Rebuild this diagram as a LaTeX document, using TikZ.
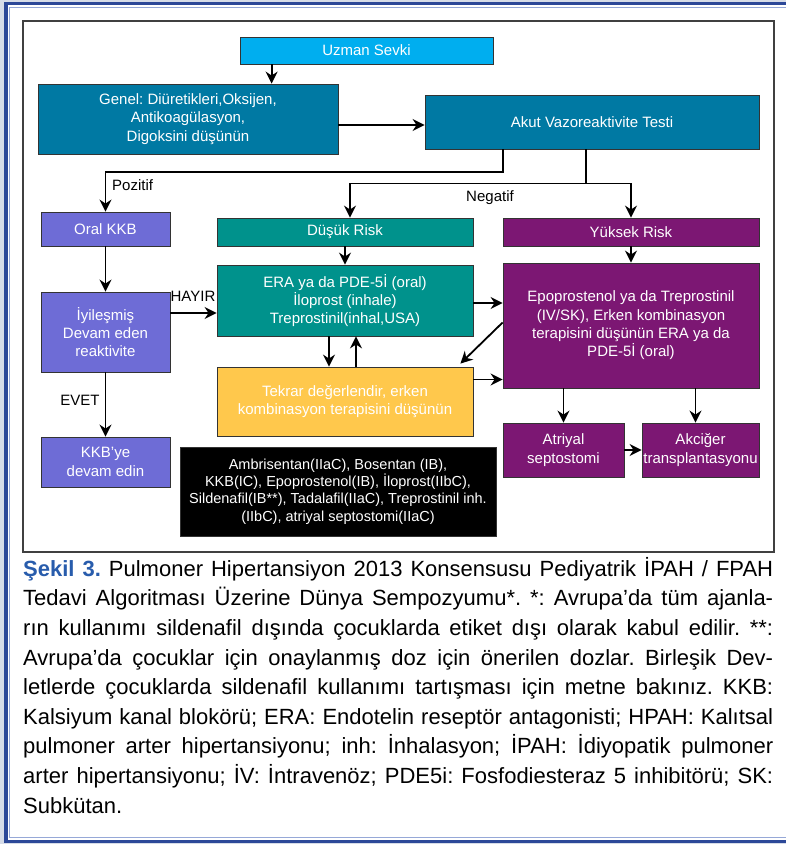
\documentclass[tikz,border=0pt]{standalone}
\usepackage{fontspec}
\setmainfont{Liberation Sans}
\usetikzlibrary{arrows.meta}
\definecolor{uzmanmavi}{RGB}{0,174,239}
\definecolor{petrol}{RGB}{0,121,163}
\definecolor{lila}{RGB}{110,108,214}
\definecolor{camgobegi}{RGB}{0,146,140}
\definecolor{mor}{RGB}{124,23,115}
\definecolor{sari}{RGB}{255,200,76}
\definecolor{kenarmavi}{RGB}{44,72,152}
\definecolor{acikmavi}{RGB}{150,168,215}
\definecolor{sekilmavi}{RGB}{40,92,172}
\definecolor{kenargri}{RGB}{214,220,232}
\newcommand{\satir}[1]{\makebox[750pt][s]{#1}}
\frenchspacing

\begin{document}
\begin{tikzpicture}[x=1pt,y=-1pt,
        kutu/.style={draw=black!80,line width=0.8pt,text=white,align=center,inner sep=0pt,
            font=\fontsize{15}{18.3}\selectfont},
        etiket/.style={font=\fontsize{15}{18}\selectfont,inner sep=0pt},
        ok/.style={line width=1.8pt,-{Stealth[length=12pt,width=12pt]}}]
        \useasboundingbox (0,0) rectangle (786,844);
        \fill[kenargri] (0,0) rectangle (786,844);
        \draw[kenarmavi,line width=3.5pt,fill=white] (5.8,3.7) rectangle (800,841.5);
        \draw[acikmavi,line width=1pt] (9.6,7.4) rectangle (800,837.2);
        \draw[black!75,line width=1.3pt] (23,21) rectangle (774,552);

        \node[kutu,fill=uzmanmavi,minimum width=253pt,minimum height=27pt] (uzman) at (366.5,50.5) {Uzman Sevki};
        \node[kutu,fill=petrol,minimum width=300pt,minimum height=70pt] (genel) at (188,119) {Genel: Diüretikleri,Oksijen,\\Antikoagülasyon,\\Digoksini düşünün};
        \node[kutu,fill=petrol,minimum width=334pt,minimum height=54pt] (akut) at (592,122) {Akut Vazoreaktivite Testi};
        \node[kutu,fill=lila,minimum width=129pt,minimum height=34pt] (oral) at (105.5,229) {Oral KKB};
        \node[kutu,fill=camgobegi,minimum width=256pt,minimum height=28pt] (dusuk) at (345,232) {Düşük Risk};
        \node[kutu,fill=mor,minimum width=256pt,minimum height=28pt] (yuksek) at (631,232) {Yüksek Risk};
        \node[kutu,fill=camgobegi,minimum width=256pt,minimum height=71pt] (era) at (345,300.5) {ERA ya da PDE-5İ (oral)\\İloprost (inhale)\\Treprostinil(inhal,USA)};
        \node[kutu,fill=mor,minimum width=256pt,minimum height=125pt] (epo) at (631,325.5) {Epoprostenol ya da Treprostinil\\(IV/SK), Erken kombinasyon\\terapisini düşünün ERA ya da\\PDE-5İ (oral)};
        \node[kutu,fill=lila,minimum width=129pt,minimum height=80pt] (iyi) at (105.5,332) {İyileşmiş\\Devam eden\\reaktivite};
        \node[kutu,fill=lila,minimum width=129pt,minimum height=50pt] (kkbye) at (105.5,462) {KKB’ye\\devam edin};
        \node[kutu,fill=sari,minimum width=256pt,minimum height=69pt] (tekrar) at (345,401.5) {Tekrar değerlendir, erken\\kombinasyon terapisini düşünün};
        \node[kutu,fill=mor,minimum width=121pt,minimum height=54pt] (atriyal) at (563.5,450) {Atriyal\\septostomi};
        \node[kutu,fill=mor,minimum width=117pt,minimum height=54pt] (akciger) at (700.5,450) {Akciğer\\transplantasyonu};
        \node[kutu,fill=black,minimum width=316pt,minimum height=89pt,font=\fontsize{14.5}{17.4}\selectfont] (siyah) at (338,491.5) {Ambrisentan(IIaC), Bosentan (IB),\\KKB(IC), Epoprostenol(IB), İloprost(IIbC),\\Sildenafil(IB**), Tadalafil(IIaC), Treprostinil inh.\\(IIbC), atriyal septostomi(IIaC)};

        \node[etiket,anchor=west] (pozitif) at (112,185) {Pozitif};
        \node[etiket] (negatif) at (490,198) {Negatif};
        \node[etiket] (hayir) at (193,296) {HAYIR};
        \node[etiket] (evet) at (80,400) {EVET};

        \draw[ok] ([xshift=32pt]uzman.south west) -- ([xshift=32pt]uzman.south west |- genel.north);
        \draw[ok] ([yshift=-3pt]genel.east |- akut.west) -- ([yshift=-3pt]akut.west);
        \draw[ok] ([xshift=78pt]akut.south west) |- ([yshift=40pt]oral.north) -- (oral.north);
        \coordinate (catal) at ([xshift=-6pt,yshift=-34pt]akut.south);
        \draw[line width=1.8pt] (akut.south -| catal) -- (catal);
        \draw[ok] (catal) -| ([xshift=5pt]dusuk.north);
        \draw[ok] (catal) -| (yuksek.north);
        \draw[ok] (oral.south) -- (iyi.north);
        \draw[ok] ([yshift=19pt]iyi.east) -- ([yshift=19pt]iyi.east -| era.west);
        \draw[ok] (iyi.south) -- (kkbye.north);
        \draw[ok] (dusuk.south) -- (era.north);
        \draw[ok] (yuksek.south) -- (epo.north);
        \draw[ok] ([yshift=-2.5pt]era.east) -- ([yshift=-2.5pt]era.east -| epo.west);
        \draw[ok] ([xshift=-16pt]era.south) -- ([xshift=-16pt]era.south |- tekrar.north);
        \draw[ok] ([xshift=11pt]tekrar.north) -- ([xshift=11pt]tekrar.north |- era.south);
        \draw[ok] ([yshift=3pt]epo.west) -- ([xshift=-13pt,yshift=3pt]tekrar.north east);
        \draw[ok] ([yshift=22pt]tekrar.east) -- ([yshift=22pt]tekrar.east -| epo.west);
        \draw[ok] (atriyal.north |- epo.south) -- (atriyal.north);
        \draw[ok] ([xshift=-5pt]akciger.north |- epo.south) -- ([xshift=-5pt]akciger.north);
        \draw[ok] (atriyal.east) -- (akciger.west);

        \node[anchor=north west,inner sep=0pt,align=left,font=\fontsize{22}{29.6}\selectfont] (aciklama) at (23,557) {%
            \satir{{\bfseries\color{sekilmavi}Şekil 3.} Pulmoner Hipertansiyon 2013 Konsensusu Pediyatrik İPAH / FPAH}\\
            \satir{Tedavi Algoritması Üzerine Dünya Sempozyumu*. *: Avrupa’da tüm ajanla-}\\
            \satir{rın kullanımı sildenafil dışında çocuklarda etiket dışı olarak kabul edilir. **:}\\
            \satir{Avrupa’da çocuklar için onaylanmış doz için önerilen dozlar. Birleşik Dev-}\\
            \satir{letlerde çocuklarda sildenafil kullanımı tartışması için metne bakınız. KKB:}\\
            \satir{Kalsiyum kanal blokörü; ERA: Endotelin reseptör antagonisti; HPAH: Kalıtsal}\\
            \satir{pulmoner arter hipertansiyonu; inh: İnhalasyon; İPAH: İdiyopatik pulmoner}\\
            \satir{arter hipertansiyonu; İV: İntravenöz; PDE5i: Fosfodiesteraz 5 inhibitörü; SK:}\\
            Subkütan.};
    \end{tikzpicture}
\end{document}
